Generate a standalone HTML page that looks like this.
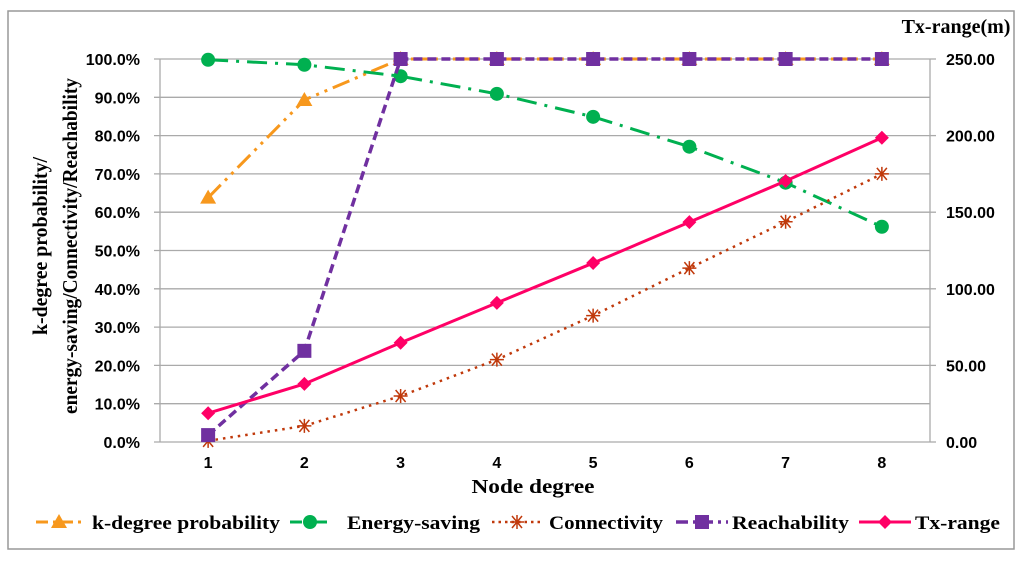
<!DOCTYPE html>
<html><head><meta charset="utf-8"><style>
body{margin:0;background:#fff;width:1024px;height:565px;overflow:hidden}
svg{display:block}
text{font-family:"Liberation Serif",serif;font-weight:bold}
.tick{font-family:"Liberation Sans",sans-serif;font-size:16px;font-weight:bold}
</style></head><body>
<svg id="chart" width="1024" height="565" viewBox="0 0 1024 565" xmlns="http://www.w3.org/2000/svg">
<rect x="8" y="11" width="1006" height="538" fill="#fff" stroke="#999" stroke-width="1.5"/>
<g id="grid"></g><g id="series"></g>
<text transform="translate(40,246) rotate(-90)" text-anchor="middle" font-size="21"><tspan x="0" y="7" textLength="178" lengthAdjust="spacingAndGlyphs">k-degree probability/</tspan><tspan x="0" y="37" textLength="336" lengthAdjust="spacingAndGlyphs">energy-saving/Connectivity/Reachability</tspan></text>
<text x="533" y="493" text-anchor="middle" font-size="20" textLength="123" lengthAdjust="spacingAndGlyphs">Node degree</text>
<text x="956" y="33" text-anchor="middle" font-size="20">Tx-range(m)</text>
<g id="legend"></g>
</svg>
<script>
const categories=[1,2,3,4,5,6,7,8];
const kDegree=[63.8,89.3,100,100,100,100,100,100];
const energy=[99.8,98.5,95.5,90.9,84.9,77.1,67.7,56.2];
const connectivity=[0.3,4.2,12.0,21.5,33.0,45.4,57.5,70.0];
const reach=[1.8,23.8,100,100,100,100,100,100];
const txRange=[18.8,37.9,64.8,90.8,116.8,143.5,170.4,198.6];
const leftTicks=[0,10,20,30,40,50,60,70,80,90,100];
const rightTicks=[0,50,100,150,200,250];
const NS="http://www.w3.org/2000/svg";
const X0=160,X1=930,Y0=442,Y1=59;
const xs=i=>X0+(X1-X0)/categories.length*(i+0.5);
const yl=v=>Y0-(Y0-Y1)*v/100;
const yr=v=>Y0-(Y0-Y1)*v/250;
function mk(tag,attrs,parent){const e=document.createElementNS(NS,tag);for(const k in attrs)e.setAttribute(k,attrs[k]);parent.appendChild(e);return e;}
const grid=document.getElementById('grid'),ser=document.getElementById('series'),leg=document.getElementById('legend');
leftTicks.forEach(t=>{const y=yl(t);
 const l=mk('line',{x1:X0-6,x2:X1,y1:y,y2:y,stroke:'#aaa','stroke-width':1.3},grid);
 
 const tx=mk('text',{x:X0-20,y:y+6,'text-anchor':'end',class:'tick'},grid);tx.textContent=t.toFixed(1)+'%';
 });
rightTicks.forEach(t=>{const y=yr(t);
 mk('line',{x1:X1,x2:X1+6,y1:y,y2:y,stroke:'#aaa','stroke-width':1.3},grid);
 const tx=mk('text',{x:X1+16,y:y+6,class:'tick'},grid);tx.textContent=t.toFixed(2);
 });
mk('line',{x1:X0,x2:X0,y1:Y1,y2:Y0,stroke:'#aaa','stroke-width':1.3},grid);
mk('line',{x1:X1,x2:X1,y1:Y1,y2:Y0,stroke:'#aaa','stroke-width':1.3},grid);
categories.forEach((c,i)=>{const tx=mk('text',{x:xs(i),y:Y0+26,'text-anchor':'middle',class:'tick'},grid);tx.textContent=c;
 });
function marker(type,x,y,color,p){
 if(type==='tri')return mk('path',{d:`M${x} ${y-8}L${x+8} ${y+6}L${x-8} ${y+6}Z`,fill:color},p);
 if(type==='circ')return mk('circle',{cx:x,cy:y,r:7,fill:color},p);
 if(type==='sq')return mk('rect',{x:x-7,y:y-7,width:14,height:14,fill:color},p);
 if(type==='dia')return mk('path',{d:`M${x} ${y-7}L${x+7} ${y}L${x} ${y+7}L${x-7} ${y}Z`,fill:color},p);
 if(type==='star')return mk('path',{d:`M${x-7} ${y}H${x+7}M${x-5} ${y-6}L${x+5} ${y+6}M${x+5} ${y-6}L${x-5} ${y+6}M${x} ${y-7}V${y+7}`,stroke:color,'stroke-width':1.5,fill:'none'},p);}
const S=[
 {name:'k-degree probability',vals:kDegree,ax:yl,color:'#f7981d',dash:'18 6 3 6 3 6',m:'tri',w:3},
 {name:'Energy-saving',vals:energy,ax:yl,color:'#00b050',dash:'20 8 3 8',m:'circ',w:3},
 {name:'Connectivity',vals:connectivity,ax:yl,color:'#c0390b',dash:'2.5 5',m:'star',w:2.5},
 {name:'Reachability',vals:reach,ax:yl,color:'#7030a0',dash:'9 5',m:'sq',w:3.5},
 {name:'Tx-range',vals:txRange,ax:yr,color:'#ff0066',dash:'',m:'dia',w:3}];
S.forEach(s=>{const g=mk('g',{},ser);
 
 
 const pts=s.vals.map((v,i)=>xs(i)+','+s.ax(v)).join(' ');
 mk('polyline',{points:pts,fill:'none',stroke:s.color,'stroke-width':s.w,'stroke-dasharray':s.dash},g);
 s.vals.forEach((v,i)=>{const m=marker(s.m,xs(i),s.ax(v),s.color,g);
  });});
const legLine=[[36,82],[290,330],[492,542],[676,728],[859,911]];
const legText=[[92,188],[347,133],[549,114],[732,117],[915,85]];
S.forEach((s,i)=>{const g=mk('g',{},leg);
 
 const [a,b]=legLine[i],y=522;
 mk('line',{x1:a,x2:b,y1:y,y2:y,stroke:s.color,'stroke-width':s.w,'stroke-dasharray':s.m==='star'?'2.5 4':(s.dash?'12 5 3 5':'')},g);
 marker(s.m,(a+b)/2,y,s.color,g);
 const t=mk('text',{x:legText[i][0],y:y+7,'font-size':19,textLength:legText[i][1],lengthAdjust:'spacingAndGlyphs'},g);t.textContent=s.name;});
</script>
</body></html>
